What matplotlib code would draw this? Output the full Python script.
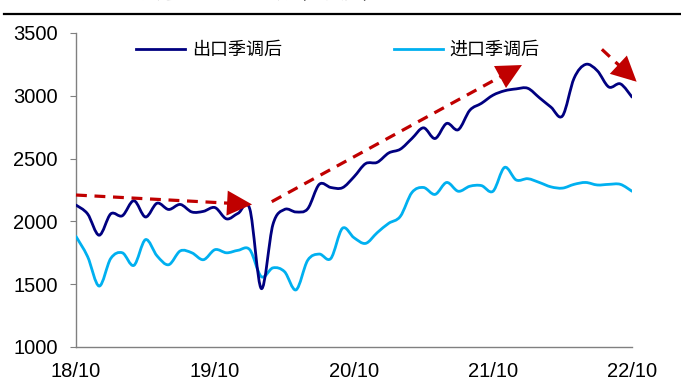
import matplotlib
matplotlib.use('Agg')
from matplotlib import pyplot as plt
from matplotlib.path import Path
from matplotlib.patches import PathPatch
from matplotlib.lines import Line2D
import numpy as np

plt.rcParams['font.family'] = ['Liberation Sans', 'Noto Sans CJK SC', 'DejaVu Sans']

# monthly values, 2018/10 - 2022/10 (100 mn USD, seasonally adjusted)
export_sa = [2130, 2060, 1890, 2060, 2045, 2165, 2035, 2145, 2095, 2135,
             2075, 2080, 2110, 2020, 2065, 2100, 1465, 1975, 2095, 2075,
             2100, 2295, 2270, 2268, 2355, 2460, 2470, 2545, 2575, 2660,
             2745, 2660, 2780, 2730, 2885, 2940, 3005, 3040, 3055, 3060,
             2985, 2910, 2840, 3140, 3250, 3200, 3070, 3095, 2990]
import_sa = [1880, 1720, 1485, 1705, 1750, 1650, 1855, 1725, 1655, 1765,
             1750, 1695, 1775, 1750, 1770, 1775, 1560, 1630, 1600, 1455,
             1690, 1740, 1705, 1945, 1870, 1825, 1910, 1985, 2040, 2230,
             2270, 2215, 2310, 2240, 2280, 2285, 2240, 2430, 2330, 2340,
             2310, 2275, 2265, 2295, 2310, 2290, 2295, 2295, 2240]
tick_pos = [0, 12, 24, 36, 48]
tick_labels = ['18/10', '19/10', '20/10', '21/10', '22/10']

# trend arrows: (start x, start y, tip x, tip y)
trend_arrows = [(0, 2210, 15.2, 2135),
                (16.9, 2157, 38.5, 3245),
                (45.4, 3370, 48.4, 3112)]

navy = '#000080'
sky = '#00B0F0'
red = '#C00000'


def smooth_path(xs, ys):
    # catmull-rom through the points, written as cubic bezier segments
    pts = np.column_stack([xs, ys]).astype(float)
    n = len(pts)
    verts = [pts[0]]
    codes = [Path.MOVETO]
    for i in range(n - 1):
        p0 = pts[max(i - 1, 0)]
        p1 = pts[i]
        p2 = pts[i + 1]
        p3 = pts[min(i + 2, n - 1)]
        c1 = p1 + (p2 - p0) / 6.0
        c2 = p2 - (p3 - p1) / 6.0
        verts += [c1, c2, p2]
        codes += [Path.CURVE4] * 3
    return Path(verts, codes)


fig = plt.figure(figsize=(6.81, 3.83), dpi=100)
ax = fig.add_axes([76 / 681, 36 / 383, 556 / 681, 314 / 383])

x = np.arange(len(export_sa))
for series, col in [(import_sa, sky), (export_sa, navy)]:
    ax.add_patch(PathPatch(smooth_path(x, series), fill=False, edgecolor=col,
                           lw=2.0, capstyle='round', joinstyle='round', zorder=3))

for x0, y0, x1, y1 in trend_arrows:
    ax.plot([x0, x0 + (x1 - x0) * 0.93], [y0, y0 + (y1 - y0) * 0.93], color=red,
            lw=2.3, linestyle=(0, (3.4, 2.4)), zorder=4, clip_on=False)
    ax.annotate('', xy=(x1, y1), xytext=(x1 - (x1 - x0) * 0.12, y1 - (y1 - y0) * 0.12),
                arrowprops=dict(arrowstyle='-|>,head_length=1.0,head_width=0.5',
                                color=red, lw=0, mutation_scale=18,
                                shrinkA=0, shrinkB=0),
                annotation_clip=False, zorder=5)

ax.set_xlim(0, 48)
ax.set_ylim(1000, 3500)
ax.set_yticks(range(1000, 3501, 500))
ax.set_xticks(tick_pos)
ax.set_xticklabels(tick_labels)

for s in ['top', 'right']:
    ax.spines[s].set_visible(False)
for s in ['left', 'bottom']:
    ax.spines[s].set_color('#808080')
    ax.spines[s].set_linewidth(1.0)
ax.tick_params(axis='y', length=4, color='#808080', pad=9, labelsize=14.5)
ax.tick_params(axis='x', length=0, pad=11, labelsize=14.5)

handles = [Line2D([], [], color=navy, lw=2.0), Line2D([], [], color=sky, lw=2.0)]
ax.legend(handles, ['出口季调后', '进口季调后'], loc='upper left',
          bbox_to_anchor=(0.085, 1.015), ncol=2, frameon=False,
          prop={'family': ['Noto Sans CJK SC', 'DejaVu Sans'], 'size': 13},
          handlelength=2.7, handletextpad=0.4, columnspacing=6.2, borderpad=0.2)

# header rule with the chart title above it
fig.add_artist(Line2D([0.006, 1.0], [1 - 14 / 383, 1 - 14 / 383],
                      transform=fig.transFigure, color='black', lw=1.6))
fig.text(0.022, 1 + 6 / 383, '图1：中国出口、进口季调后金额（亿美元）', va='center',
         ha='left', fontsize=13.5, family=['Noto Sans CJK SC', 'DejaVu Sans'])

fig.savefig('out.png', dpi=100)
